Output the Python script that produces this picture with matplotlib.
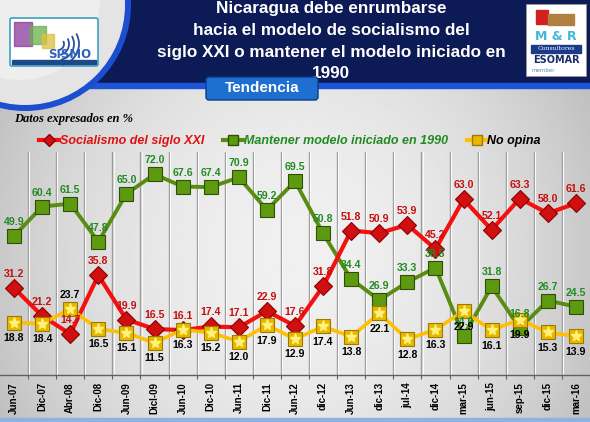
import numpy as np
import matplotlib
matplotlib.use("Agg")
import matplotlib.pyplot as plt
from matplotlib.patches import Rectangle, FancyBboxPatch, Circle, Arc
from matplotlib.lines import Line2D

categories = ["Jun-07", "Dic-07", "Abr-08", "Dic-08", "Jun-09", "Dicl-09", "Jun-10",
              "Dic-10", "Jun-11", "Dic-11", "Jun-12", "dic-12", "Jun-13", "dic-13",
              "jul-14", "dic-14", "mar-15", "jun-15", "sep-15", "dic-15", "mar-16"]
socialismo = [31.2, 21.2, 14.7, 35.8, 19.9, 16.5, 16.1, 17.4, 17.1, 22.9, 17.6, 31.8,
              51.8, 50.9, 53.9, 45.2, 63.0, 52.1, 63.3, 58.0, 61.6]
mantener = [49.9, 60.4, 61.5, 47.8, 65.0, 72.0, 67.6, 67.4, 70.9, 59.2, 69.5, 50.8,
            34.4, 26.9, 33.3, 38.5, 14.0, 31.8, 16.8, 26.7, 24.5]
no_opina = [18.8, 18.4, 23.7, 16.5, 15.1, 11.5, 16.3, 15.2, 12.0, 17.9, 12.9, 17.4,
            13.8, 22.1, 12.8, 16.3, 22.9, 16.1, 19.9, 15.3, 13.9]

series_names = ["Socialismo del siglo XXI", "Mantener modelo iniciado en 1990", "No opina"]
title_lines = ["Nicaragua debe enrumbarse", "hacia el modelo de socialismo del",
               "siglo XXI o mantener el modelo iniciado en", "1990"]

W, H = 590, 422
fig = plt.figure(figsize=(W / 100, H / 100), dpi=100)

# ---------- background (pixel coordinates) ----------
bg = fig.add_axes([0, 0, 1, 1])
bg.set_xlim(0, W)
bg.set_ylim(H, 0)
bg.axis("off")

xx = np.linspace(-1, 1, 300)
yy = np.linspace(-1, 1, 220)
X, Y = np.meshgrid(xx, yy)
grad = 0.94 - 0.15 * (X ** 2) - 0.04 * (Y ** 2)
bg.imshow(grad, cmap="gray", vmin=0, vmax=1, extent=[0, W, H, 86], aspect="auto", zorder=0)

# header band
bg.add_patch(Rectangle((0, 0), W, 83, color="#0c1a55", zorder=1))
bg.add_patch(Rectangle((0, 83), W, 5, color="#1d55d6", zorder=1))

# left circle logo
bg.add_patch(Circle((25, 5), 106, facecolor="#1c4fd0", edgecolor="none", zorder=2))
bg.add_patch(Circle((25, 5), 100, facecolor="#e4e4e4", edgecolor="none", zorder=2))
bg.add_patch(Circle((20, 0), 80, facecolor="#eeeeee", edgecolor="none", zorder=2))
bg.add_patch(FancyBboxPatch((10, 18), 88, 48, boxstyle="round,pad=0,rounding_size=2",
                            facecolor="white", edgecolor="#3aa0c0", lw=1.2, zorder=3))
bg.add_patch(Rectangle((14, 22), 18, 24, color="#8a3a9a", alpha=0.75, zorder=4))
bg.add_patch(Rectangle((30, 26), 16, 18, color="#6ab04a", alpha=0.75, zorder=4))
bg.add_patch(Rectangle((42, 34), 12, 14, color="#e0c040", alpha=0.75, zorder=4))
for r in (6, 11, 16, 21):
    bg.add_patch(Arc((58, 44), r * 2, r * 2, theta1=-30, theta2=80,
                     color="#2a4fa0", lw=1.3, zorder=4))
bg.text(70, 55, "SISMO", ha="center", va="center", fontsize=8.5, fontweight="bold",
        color="#2a60c0", zorder=5)
bg.add_patch(Rectangle((12, 60), 84, 4, color="#1a4a8a", zorder=4))

# right logo
bg.add_patch(Rectangle((526, 4), 60, 72, facecolor="white", edgecolor="#999999", lw=0.6, zorder=3))
bg.add_patch(Rectangle((536, 10), 12, 14, color="#d02020", zorder=4))
bg.add_patch(Rectangle((548, 14), 26, 11, color="#b08040", zorder=4))
bg.text(556, 37, "M & R", ha="center", va="center", fontsize=9, fontweight="bold",
        color="#40b8d8", zorder=4)
bg.add_patch(Rectangle((531, 45), 50, 8, color="#1a3a8a", zorder=4))
bg.text(556, 49, "Consultores", ha="center", va="center", fontsize=4.5, color="white",
        family="DejaVu Serif", zorder=5)
bg.text(556, 60, "ESOMAR", ha="center", va="center", fontsize=7, fontweight="bold",
        color="#1a2a6a", zorder=4)
bg.text(532, 70, "member", ha="left", va="center", fontsize=4, color="#5a8ab0", zorder=4)

# title
for yb, t in zip([13.5, 35, 56.5, 77.5], title_lines):
    bg.text(331, yb, t, ha="center", va="baseline", fontsize=12.3,
            family="Liberation Sans", fontweight="bold", color="white", zorder=5)

# Tendencia button
bg.add_patch(FancyBboxPatch((206, 77), 112, 23, boxstyle="round,pad=0,rounding_size=3",
                            facecolor="#1f6fd0", edgecolor="#0a3c8c", lw=1, zorder=5))
bg.text(262, 88.5, "Tendencia", ha="center", va="center", fontsize=11,
        family="Liberation Sans", fontweight="bold", color="white", zorder=6)

# subtitle
bg.text(14, 122, "Datos expresados en %", ha="left", va="baseline", fontsize=9,
        family="Liberation Serif", fontweight="bold", style="italic", color="black", zorder=5)

# bottom stripe
bg.add_patch(Rectangle((0, 418), W, 4, color="#8fb2e6", zorder=2))

# ---------- main chart ----------
ymax = 80
ax = fig.add_axes([0, 1 - 375 / H, 1, (375 - 152) / H])
ax.set_facecolor("none")
ax.set_xlim(-0.5, len(categories) - 0.5)
ax.set_ylim(0, ymax)
x = np.arange(len(categories))

for b in np.arange(0.5, len(categories) - 0.5, 1.0):
    ax.axvline(b, color="#9c9c9c", lw=1.0, zorder=1)
    ax.axvline(b + 0.04, color="#fafafa", lw=0.8, zorder=1)

ax.plot(x, mantener, color="#5a8c12", lw=2.8, marker="s", ms=10, mfc="#5e9a10",
        mec="#2f4f08", mew=0.8, zorder=3)
ax.plot(x, socialismo, color="#f51010", lw=3.0, marker="D", ms=9, mfc="#d01010",
        mec="#8a0000", mew=0.8, zorder=4)
ax.plot(x, no_opina, color="#ffc000", lw=2.6, marker="s", ms=10, mfc="#e8b800",
        mec="#9a7a00", mew=0.8, zorder=5)
ax.plot(x, no_opina, ls="none", marker="*", ms=8, mfc="#fff27a", mec="#fff27a", zorder=6)

lab_kw = dict(ha="center", fontsize=7.6, fontweight="bold", family="Liberation Sans",
              textcoords="offset points", zorder=7)
for i in range(len(x)):
    ax.annotate(f"{mantener[i]:.1f}", (x[i], mantener[i]), xytext=(0, 6.5), va="bottom",
                color="#228a22", **lab_kw)
    ax.annotate(f"{socialismo[i]:.1f}", (x[i], socialismo[i]), xytext=(0, 6.5), va="bottom",
                color="#c41010", **lab_kw)
    if i == 2:
        ax.annotate(f"{no_opina[i]:.1f}", (x[i], no_opina[i]), xytext=(0, 6.5), va="bottom",
                    color="black", **lab_kw)
    else:
        ax.annotate(f"{no_opina[i]:.1f}", (x[i], no_opina[i]), xytext=(0, -7.5), va="top",
                    color="black", **lab_kw)

ax.set_yticks([])
ax.set_xticks(x)
ax.set_xticklabels(categories, rotation=90, fontsize=7, fontweight="bold",
                   family="Liberation Sans")
ax.tick_params(axis="x", length=0, pad=5)
ax.set_xticks(np.arange(0.5, len(categories) - 0.5, 1.0), minor=True)
ax.tick_params(axis="x", which="minor", length=3, color="#606060", width=0.8)
for s in ("top", "right", "left"):
    ax.spines[s].set_visible(False)
ax.spines["bottom"].set_color("#606060")
ax.spines["bottom"].set_linewidth(1.0)

# legend
handles = [
    Line2D([], [], color="#f51010", lw=3, marker="D", ms=6, mfc="#d01010", mec="#8a0000"),
    Line2D([], [], color="#5a8c12", lw=3, marker="s", ms=6.5, mfc="#5e9a10", mec="#2f4f08"),
    Line2D([], [], color="#ffc000", lw=3, marker="s", ms=6.5, mfc="#e8b800", mec="#9a7a00"),
]
leg = fig.legend(handles, series_names, loc="center", bbox_to_anchor=(0.4915, 1 - 141 / H),
                 ncol=3, frameon=False, handlelength=1.6, handletextpad=0.05,
                 columnspacing=1.5, prop=dict(family="Liberation Sans", weight="bold",
                                              style="italic", size=9))
for t, c in zip(leg.get_texts(), ["#e01010", "#228a22", "black"]):
    t.set_color(c)

fig.savefig("out.png", dpi=100)
